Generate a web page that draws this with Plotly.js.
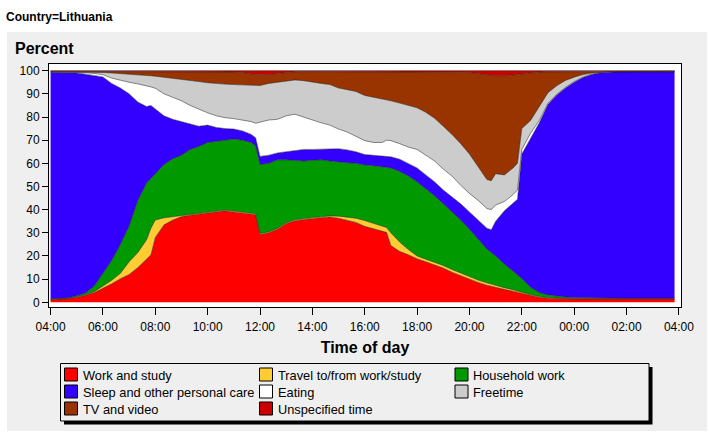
<!DOCTYPE html>
<html>
<head>
<meta charset="utf-8">
<script src="https://cdn.plot.ly/plotly-3.0.1.min.js"></script>
<style>html,body{margin:0;padding:0;background:#fff;}#chart{width:709px;height:434px;}</style>
</head>
<body>
<div id="chart"></div>
<script>
// ---- Data (percent of population by activity, 04:00 -> 03:50 next day) ----
const times = ['04:00','04:20','04:40','05:00','05:20','05:40','06:00','06:20','06:40','07:00','07:20','07:40',
  '07:50',
  '08:00','08:20','08:40','09:00','09:20','09:40','10:00','10:20','10:40','11:00','11:20','11:40',
  '11:50',
  '12:00','12:20','12:40','13:00','13:20','13:40','14:00','14:20','14:40','15:00','15:20','15:40','16:00','16:20','16:40',
  '16:50',
  '17:00','17:20','17:40','18:00','18:20','18:40','19:00','19:20','19:40','20:00','20:20','20:40',
  '20:50',
  '21:00','21:20','21:40',
  '21:50',
  '22:00','22:20','22:40','23:00','23:20','23:40','00:00','00:20','00:40','01:00','01:20','01:40','02:00','02:20','02:40','03:00','03:20','03:40',
  '03:50'];

const work = [1.2,1.3,1.6,2.2,3.0,4.2,6.0,8.0,10.2,12.0,15.0,18.5,
  20.5,
  28.0,33.5,35.5,37.0,37.6,38.0,38.5,39.0,39.5,39.0,38.5,38.2,
  37.8,
  29.3,30.0,31.5,34.0,35.2,35.8,36.2,36.5,36.8,36.3,35.5,34.5,32.8,31.8,30.8,
  30.2,
  24.5,22.0,20.5,18.8,17.5,16.3,14.8,13.0,11.5,10.0,8.6,7.4,
  6.9,
  6.5,5.6,4.8,
  4.4,
  3.9,3.0,2.2,1.8,1.6,1.5,1.5,1.5,1.5,1.5,1.5,1.5,1.5,1.5,1.5,1.5,1.5,1.5,
  1.5];

const travel = [0.1,0.1,0.1,0.2,0.3,0.4,1.0,1.5,2.3,5.5,6.5,8.5,
  11.5,
  7.5,3.0,1.5,0.6,0.4,0.3,0.3,0.3,0.3,0.4,0.4,0.4,
  0.4,
  0.4,0.4,0.4,0.4,0.4,0.4,0.4,0.4,0.5,0.9,1.3,1.8,2.5,2.2,2.0,
  2.1,
  5.5,4.0,2.3,1.2,1.1,1.0,1.1,1.2,1.1,1.1,1.0,1.0,
  0.9,
  0.9,0.7,0.6,
  0.6,
  0.5,0.4,0.3,0.2,0.2,0.2,0.1,0.1,0.1,0.1,0.1,0.1,0.1,0.1,0.1,0.1,0.1,0.1,
  0.1];

const household = [0.2,0.3,0.3,0.4,0.7,2.4,5.5,8.5,12.5,15.5,22.5,24.5,
  21.5,
  20.0,23.0,25.0,25.9,28.0,29.0,30.2,30.2,30.2,31.1,31.1,30.4,
  29.3,
  29.8,29.6,29.6,27.1,25.6,24.8,24.7,24.6,23.7,23.6,23.5,23.7,24.0,25.0,25.8,
  26.1,
  28.0,30.5,31.7,32.0,30.4,28.7,26.6,24.8,22.9,20.4,17.4,14.6,
  13.7,
  12.6,10.2,8.1,
  7.0,
  5.9,3.1,1.7,1.2,0.8,0.6,0.5,0.4,0.3,0.2,0.2,0.2,0.2,0.2,0.2,0.2,0.2,0.2,
  0.2];

const sleep = [97.8,97.6,97.2,96.2,94.5,91.0,84.8,76.5,67.5,57.0,42.5,33.0,
  31.5,
  28.0,21.0,17.0,14.5,10.8,8.7,7.5,6.0,5.0,4.3,4.0,3.5,
  3.5,
  3.5,3.5,3.0,3.5,4.3,5.0,4.7,4.7,5.3,5.5,5.5,5.0,4.5,4.4,4.4,
  4.6,
  4.8,5.3,5.3,6.0,6.0,6.0,6.0,6.5,7.0,7.5,8.5,9.0,
  9.8,
  15.0,23.0,29.5,
  32.5,
  53.7,64.0,73.3,82.3,86.9,90.2,92.9,95.0,96.5,97.3,97.6,97.7,97.7,97.7,97.7,97.7,97.7,97.7,
  97.7];

const eating = [0.1,0.1,0.15,0.3,0.6,0.8,1.0,2.3,3.3,5.0,7.8,9.1,
  8.0,
  8.9,9.5,9.5,9.0,8.2,7.3,5.3,5.0,4.7,4.5,4.7,5.5,
  6.3,
  14.8,15.2,14.5,15.5,15.7,14.0,12.5,11.3,10.2,8.5,7.7,6.8,6.0,5.6,6.0,
  7.0,
  7.0,6.7,7.2,8.0,8.5,9.0,9.0,9.0,8.0,8.0,8.5,8.5,
  8.7,
  7.0,4.0,3.5,
  4.0,
  2.0,2.5,1.0,0.5,0.3,0.3,0.3,0.2,0.1,0.1,0.1,0.05,0.05,0.05,0.05,0.05,0.05,0.05,
  0.05];

const freetime = [0.1,0.1,0.15,0.2,0.3,0.5,0.9,2.2,3.0,3.5,3.9,4.4,
  4.8,
  5.2,7.2,8.3,9.3,10.8,12.0,13.0,13.9,14.5,14.7,15.1,15.6,
  16.1,
  15.8,15.8,16.0,15.0,14.8,15.7,16.5,17.0,17.5,17.7,18.3,19.2,19.5,19.5,19.0,
  17.5,
  17.2,17.5,18.0,18.0,18.5,18.5,18.5,18.0,18.0,17.0,14.5,12.5,
  12.5,
  13.5,11.5,11.5,
  11.5,
  9.0,5.5,6.0,4.5,3.7,3.0,1.9,1.1,0.5,0.2,0.1,0.05,0.05,0.05,0.05,0.05,0.05,0.05,
  0.05];

const tv = [0.2,0.2,0.2,0.2,0.3,0.3,0.4,0.6,0.8,1.1,1.4,1.6,
  1.8,
  2.0,2.4,2.8,3.3,3.8,4.3,4.8,5.1,5.2,5.4,5.4,5.2,
  4.9,
  4.9,3.7,3.8,3.7,3.5,3.9,4.6,5.1,5.6,7.1,7.8,8.6,10.3,11.1,11.6,
  12.1,
  12.6,13.6,14.6,15.6,17.6,20.1,23.5,27.0,30.8,35.2,40.3,45.3,
  45.5,
  42.3,42.8,40.2,
  38.5,
  23.8,20.8,14.9,9.0,6.0,3.8,2.4,1.3,0.6,0.3,0.1,0.1,0.1,0.1,0.1,0.1,0.1,0.1,
  0.1];

const unspecified = [0.3,0.3,0.3,0.3,0.3,0.4,0.4,0.4,0.4,0.4,0.4,0.4,
  0.4,
  0.4,0.4,0.4,0.4,0.4,0.4,0.4,0.5,0.6,0.6,0.8,1.2,
  1.7,
  1.5,1.8,1.2,0.8,0.5,0.4,0.4,0.4,0.4,0.4,0.4,0.4,0.4,0.4,0.4,
  0.4,
  0.4,0.4,0.4,0.4,0.4,0.4,0.5,0.5,0.7,0.8,1.2,1.7,
  2.0,
  2.2,2.2,1.8,
  1.5,
  1.2,0.7,0.6,0.5,0.5,0.4,0.4,0.4,0.4,0.3,0.3,0.3,0.3,0.3,0.3,0.3,0.3,0.3,
  0.3];

const seriesNames = ['Work and study','Travel to/from work/study','Household work',
  'Sleep and other personal care','Eating','Freetime','TV and video','Unspecified time'];
const seriesColors = ['#FF0000','#FFCC33','#009900','#3300FF','#FFFFFF','#CCCCCC','#993300','#CC0000'];
const seriesValues = [work, travel, household, sleep, eating, freetime, tv, unspecified];

const tickLabels = ['04:00','06:00','08:00','10:00','12:00','14:00','16:00','18:00','20:00','22:00','00:00','02:00','04:00'];
const yTicks = [0,10,20,30,40,50,60,70,80,90,100];

// ---- Helpers ----
const startHour = 4;
function toHours(t){
  const p = t.split(':');
  return ((+p[0] - startHour + 24) % 24) + (+p[1]) / 60;
}
const xh = times.map(toHours);

const FONT = 'Arial, "Liberation Sans", sans-serif';
const W = 709, H = 434, L = 49, R = 28, T = 64, B = 127;
const PW = W - L - R, PH = H - T - B;
const px = x => (x - L) / PW;
const py = y => (H - B - y) / PH;

// ---- Traces ----
const traces = seriesValues.map((vals, i) => ({
  type: 'scatter', mode: 'lines', x: xh, y: vals, name: seriesNames[i],
  stackgroup: 'one', fillcolor: seriesColors[i],
  line: {color: 'rgba(30,30,30,0.85)', width: 0.6},
  showlegend: false, hoverinfo: 'skip'
}));

// ---- Shapes / annotations (panel + legend) ----
const PANEL = '#EFEFEF';
const shapes = [
  {type:'rect', xref:'paper', yref:'paper', x0:px(7), x1:px(707), y0:py(431), y1:py(32),
   fillcolor:PANEL, line:{width:0}, layer:'below'},
  {type:'rect', xref:'paper', yref:'paper', x0:0, x1:1, y0:0, y1:1,
   fillcolor:'#FFFFFF', line:{width:0}, layer:'below'},
  {type:'rect', xref:'paper', yref:'paper', x0:px(64), x1:px(652.5), y0:py(424.5), y1:py(367),
   fillcolor:'#000000', line:{width:0}, layer:'above'},
  {type:'rect', xref:'paper', yref:'paper', x0:px(60.5), x1:px(649), y0:py(421), y1:py(363.5),
   fillcolor:PANEL, line:{color:'#000000', width:1}, layer:'above'}
];
const annotations = [
  {xref:'paper', yref:'paper', x:px(13), y:py(48), xanchor:'left', yanchor:'middle',
   text:'<b>Percent</b>', showarrow:false, font:{family:FONT, size:16, color:'#000'}}
];
const colX = [64.5, 259.5, 455];
const rowY = [374.5, 391.5, 408.5];
seriesNames.forEach((name, i) => {
  const c = i % 3, r = Math.floor(i / 3);
  const sx = colX[c], sy = rowY[r];
  shapes.push({type:'rect', xref:'paper', yref:'paper',
    x0:px(sx), x1:px(sx + 13), y0:py(sy + 6.5), y1:py(sy - 6.5),
    fillcolor:seriesColors[i], line:{color:'#000000', width:1}, layer:'above'});
  annotations.push({xref:'paper', yref:'paper', x:px(sx + 16), y:py(sy + 0.5),
    xanchor:'left', yanchor:'middle', text:name, showarrow:false,
    font:{family:FONT, size:12.8, color:'#000'}});
});

const layout = {
  width: W, height: H,
  margin: {l:L, r:R, t:T, b:B, pad:0},
  paper_bgcolor: '#FFFFFF', plot_bgcolor: '#FFFFFF',
  font: {family: FONT, size: 12, color: '#000'},
  title: {text:'<b>Country=Lithuania</b>', xref:'container', yref:'container',
    x: 6 / W, xanchor:'left', y: 1 - 17 / H, yanchor:'middle',
    font:{family:FONT, size:12, color:'#000'}},
  xaxis: {
    range: [-0.06, 24.08], tickvals: tickLabels.map((_, i) => i * 2), ticktext: tickLabels,
    ticks:'outside', ticklen:7, tickcolor:'#000', tickwidth:1, ticklabelstandoff:2,
    showline:true, linecolor:'#000', linewidth:1, mirror:true,
    showgrid:false, zeroline:false, tickfont:{family:FONT, size:12, color:'#000'},
    title:{text:'<b>Time of day</b>', font:{family:FONT, size:16, color:'#000'}, standoff:8}
  },
  yaxis: {
    range: [-2.02, 102.88], tickvals: yTicks, ticktext: yTicks.map(String),
    ticks:'outside', ticklen:6, tickcolor:'#000', tickwidth:1,
    showline:true, linecolor:'#000', linewidth:1, mirror:true,
    showgrid:false, zeroline:false, tickfont:{family:FONT, size:12, color:'#000'}
  },
  shapes: shapes, annotations: annotations, showlegend: false
};

Plotly.newPlot('chart', traces, layout, {displayModeBar:false, staticPlot:true});
</script>
</body>
</html>
